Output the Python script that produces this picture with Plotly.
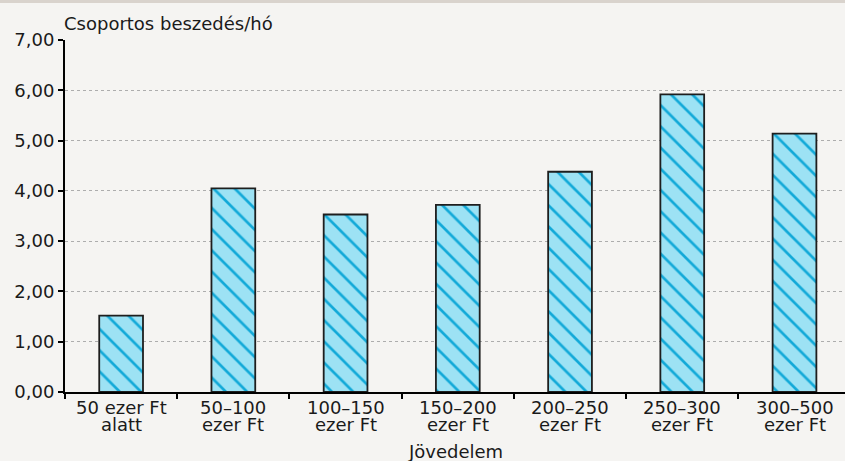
import plotly.graph_objects as go

# ---- data ----
label_line1 = ["50 ezer Ft", "50–100", "100–150", "150–200", "200–250", "250–300", "300–500"]
label_line2 = ["alatt", "ezer Ft", "ezer Ft", "ezer Ft", "ezer Ft", "ezer Ft", "ezer Ft"]
categories = [a + " " + b for a, b in zip(label_line1, label_line2)]
values = [1.52, 4.05, 3.53, 3.72, 4.38, 5.92, 5.14]
y_title = "Csoportos beszedés/hó"
x_title = "Jövedelem"

FONT = "DejaVu Sans"
BG = "#f5f4f2"

fig = go.Figure()
fig.add_trace(go.Bar(
    x=categories, y=values, width=0.39,
    marker=dict(
        color="#9de2f4",
        line=dict(color="#1e1e1e", width=1.8),
        pattern=dict(shape="\\", fillmode="replace", bgcolor="#9de2f4",
                     fgcolor="#12a9d8", size=15, solidity=0.18),
    ),
    hoverinfo="skip",
))

annotations = []
for cat, l1, l2 in zip(categories, label_line1, label_line2):
    annotations.append(dict(x=cat, xref="x", y=0, yref="paper", text=l1,
                            showarrow=False, yanchor="middle", yshift=-15,
                            font=dict(family=FONT, size=18, color="#1a1a1a")))
    annotations.append(dict(x=cat, xref="x", y=0, yref="paper", text=l2,
                            showarrow=False, yanchor="middle", yshift=-32,
                            font=dict(family=FONT, size=18, color="#1a1a1a")))
annotations.append(dict(x=0, xref="paper", y=1, yref="paper", text=y_title,
                        showarrow=False, xanchor="left", yanchor="middle",
                        xshift=-3, yshift=17,
                        font=dict(family=FONT, size=18, color="#1a1a1a")))
annotations.append(dict(x=0.5, xref="paper", y=0, yref="paper", text=x_title,
                        showarrow=False, xanchor="center", yanchor="middle",
                        yshift=-59,
                        font=dict(family=FONT, size=18, color="#1a1a1a")))

fig.update_layout(
    width=845, height=461,
    margin=dict(l=65, r=0, t=40, b=69),
    paper_bgcolor=BG, plot_bgcolor=BG,
    separators=", ",
    showlegend=False,
    font=dict(family=FONT, size=18, color="#1a1a1a"),
    annotations=annotations,
    shapes=[dict(type="rect", xref="paper", yref="paper", x0=-0.2, x1=1.2,
                 ysizemode="pixel", yanchor=1, y0=37, y1=41,
                 fillcolor="#d9d3cd", line=dict(width=0), layer="above")],
)
fig.update_xaxes(
    range=[-0.5, 6.45], showticklabels=False,
    showline=True, linecolor="#000", linewidth=2,
    ticks="outside", tickson="boundaries", ticklen=5, tickwidth=2, tickcolor="#000",
    showgrid=False, zeroline=False, fixedrange=True,
)
fig.update_yaxes(
    range=[0, 7], dtick=1, tickformat=".2f",
    showline=True, linecolor="#000", linewidth=2,
    ticks="outside", ticklen=5, tickwidth=2, tickcolor="#000",
    showgrid=True, gridcolor="#adadad", gridwidth=1, griddash="3px,3px",
    zeroline=False, fixedrange=True,
    tickfont=dict(family=FONT, size=18, color="#1a1a1a"),
)

fig.write_html(
    "out.html",
    config={"displayModeBar": False},
    post_script="document.body.style.margin='0';document.body.style.overflow='hidden';"
                "document.body.style.background='" + BG + "';",
)
